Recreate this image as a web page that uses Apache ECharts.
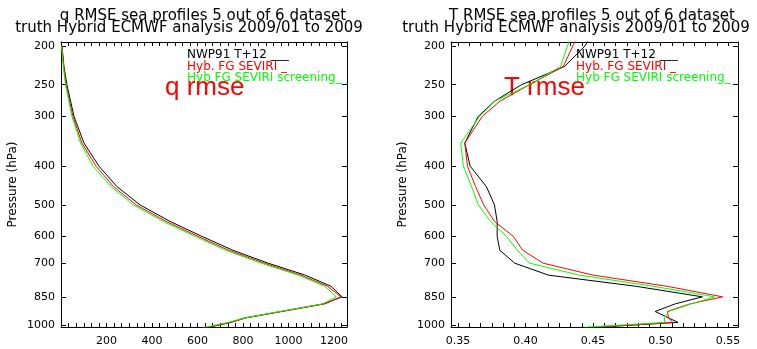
<!DOCTYPE html>
<html>
<head>
<meta charset="utf-8">
<script src="https://cdn.jsdelivr.net/npm/echarts@6/dist/echarts.min.js"></script>
<style>
  html, body { margin: 0; padding: 0; background: #fff; }
  #chart { width: 757px; height: 349px; }
</style>
</head>
<body>
<div id="chart"></div>
<script>
// pressure levels (hPa) and RMSE values
const pressureQ = [200, 225, 250, 300, 350, 400, 450, 500, 550, 600, 650, 700, 750, 800, 850, 885, 960, 985, 1015]
const qNwp    = [4, 13, 26, 57, 101, 167, 246, 347, 479, 620, 756, 910, 1073, 1187, 1235, 1156, 809, 747, 642]
const qHybFg  = [4, 12, 22, 52, 92, 154, 231, 330, 462, 603, 738, 893, 1055, 1172, 1230, 1160, 812, 745, 640]
const qHybScr = [2, 10, 20, 48, 86, 141, 220, 318, 449, 590, 725, 880, 1042, 1160, 1210, 1150, 805, 735, 625]

const pressureT = [175, 200, 225, 250, 275, 300, 350, 400, 450, 500, 550, 600, 650, 700, 750, 800, 850, 885, 925, 960, 985, 1013]
const tNwp    = [0.455, 0.444, 0.429, 0.397, 0.377, 0.365, 0.355, 0.359, 0.371, 0.377, 0.379, 0.379, 0.381, 0.392, 0.417, 0.482, 0.531, 0.511, 0.496, 0.506, 0.513, 0.452]
const tHybFg  = [0.443, 0.435, 0.428, 0.403, 0.381, 0.368, 0.355, 0.357, 0.363, 0.369, 0.377, 0.391, 0.398, 0.413, 0.450, 0.505, 0.546, 0.522, 0.505, 0.506, 0.509, 0.455]
const tHybScr = [0.439, 0.431, 0.426, 0.403, 0.377, 0.366, 0.352, 0.354, 0.360, 0.365, 0.374, 0.386, 0.394, 0.403, 0.440, 0.495, 0.540, 0.523, 0.506, 0.503, 0.503, 0.444]

// tick labels
const pressureTicks = [200, 250, 300, 400, 500, 600, 700, 850, 1000]
const qTicks = [200, 400, 600, 800, 1000, 1200]
const tTicks = [0.35, 0.40, 0.45, 0.50, 0.55]

const seriesNames = ['NWP91 T+12', 'Hyb. FG SEVIRI', 'Hyb FG SEVIRI screening']
const colors = ['#000000', '#ff0000', '#00ff00']

const chart = echarts.init(document.getElementById('chart'))

// pressure axis is logarithmic, plotted as log10(p)
const yMin = Math.log10(195.4)
const yMax = Math.log10(1011.6)
const logTicks = pressureTicks.map(p => Math.log10(p))

const qMin = 0, qMax = 1257
const tMin = 0.3448, tMax = 0.5574

// x ticks: 6 steps between labelled values
function allTicks(start, step, min, max) {
  const out = []
  for (let k = -20; k < 200; k++) {
    const v = +(start + k * step).toFixed(6)
    if (v > min && v < max) out.push(v)
  }
  return out
}
const qTickVals = allTicks(0, 200 / 6, qMin, qMax)
const tTickVals = allTicks(0.35, 0.05 / 6, tMin, tMax)

const font = 'DejaVu Sans'

function xAx(gridIndex, min, max, labels, ticks, pos, fmt) {
  return {
    type: 'value', gridIndex, min, max, position: pos,
    splitLine: { show: false },
    axisLine: { show: true, onZero: false, lineStyle: { color: '#000', width: 1 } },
    axisTick: { show: true, inside: true, length: 4, customValues: ticks, lineStyle: { color: '#000', width: 1 } },
    axisLabel: pos === 'bottom'
      ? { show: true, customValues: labels, formatter: fmt, margin: 9, color: '#000', fontSize: 11, fontFamily: font }
      : { show: false }
  }
}

function yAx(gridIndex, pos) {
  const ax = {
    type: 'value', gridIndex, min: yMin, max: yMax, inverse: true, position: pos,
    splitLine: { show: false },
    axisLine: { show: true, onZero: false, lineStyle: { color: '#000', width: 1 } },
    axisTick: { show: true, inside: true, length: 5, customValues: logTicks, lineStyle: { color: '#000', width: 1 } },
    axisLabel: { show: false }
  }
  if (pos === 'left') {
    ax.axisLabel = {
      show: true, customValues: logTicks, margin: 6,
      formatter: v => String(Math.round(Math.pow(10, v))),
      color: '#000', fontSize: 11, fontFamily: font
    }
    ax.name = 'Pressure (hPa)'
    ax.nameLocation = 'middle'
    ax.nameGap = 42
    ax.nameTextStyle = { color: '#000', fontSize: 12, fontFamily: font }
  }
  return ax
}

function makeSeries(pressures, values, idx, axisIndex) {
  return {
    name: seriesNames[idx], type: 'line', xAxisIndex: axisIndex, yAxisIndex: axisIndex,
    data: pressures.map((p, i) => [values[i], Math.log10(p)]),
    symbol: 'none', clip: true,
    lineStyle: { color: colors[idx], width: 1 }
  }
}

function text(x, y, str, color, size, align, family) {
  return {
    type: 'text', x, y, silent: true,
    style: {
      text: str, fill: color, font: size + 'px "' + (family || font) + '"',
      align: align || 'left', verticalAlign: 'middle'
    }
  }
}

const labels = [
  // titles
  text(203, 16, 'q RMSE sea profiles 5 out of 6 dataset', '#000', 15, 'center'),
  text(189, 28, 'truth Hybrid ECMWF analysis 2009/01 to 2009', '#000', 15, 'center'),
  text(592, 16, 'T RMSE sea profiles 5 out of 6 dataset', '#000', 15, 'center'),
  text(576, 28, 'truth Hybrid ECMWF analysis 2009/01 to 2009', '#000', 15, 'center'),
  // legends
  text(187, 55, seriesNames[0] + ' ___', colors[0], 12),
  text(187, 67, seriesNames[1] + ' _', colors[1], 12),
  text(187, 78, seriesNames[2] + '_', colors[2], 12),
  text(576, 55, seriesNames[0] + ' ___', colors[0], 12),
  text(576, 67, seriesNames[1] + ' _', colors[1], 12),
  text(576, 78, seriesNames[2] + '_', colors[2], 12),
  // panel labels
  text(165, 88, 'q rmse', '#ff0000', 26, 'left', 'Liberation Sans'),
  text(504, 88, 'T rmse', '#ff0000', 26, 'left', 'Liberation Sans')
]

const option = {
  animation: false,
  grid: [
    { left: 61, top: 42, width: 286, height: 285 },
    { left: 451, top: 42, width: 287, height: 285 }
  ],
  xAxis: [
    xAx(0, qMin, qMax, qTicks, qTickVals, 'bottom', v => String(v)),
    xAx(0, qMin, qMax, qTicks, qTickVals, 'top'),
    xAx(1, tMin, tMax, tTicks, tTickVals, 'bottom', v => v.toFixed(2)),
    xAx(1, tMin, tMax, tTicks, tTickVals, 'top')
  ],
  yAxis: [yAx(0, 'left'), yAx(0, 'right'), yAx(1, 'left'), yAx(1, 'right')],
  series: [
    makeSeries(pressureQ, qNwp, 0, 0),
    makeSeries(pressureQ, qHybFg, 1, 0),
    makeSeries(pressureQ, qHybScr, 2, 0),
    makeSeries(pressureT, tNwp, 0, 2),
    makeSeries(pressureT, tHybFg, 1, 2),
    makeSeries(pressureT, tHybScr, 2, 2)
  ],
  graphic: labels
}

chart.setOption(option)

// safety net: if the x axis ticks did not get drawn, add them from the axis scale
const xTickCount = chart.getZr().storage.getDisplayList().filter(el =>
  el.type === 'line' && el.shape && el.shape.x1 === el.shape.x2 &&
  Math.abs(el.shape.y1 - el.shape.y2) > 0 && Math.abs(el.shape.y1 - el.shape.y2) < 10).length
if (xTickCount < 20) {
  const extra = []
  ;[[0, qTickVals], [2, tTickVals]].forEach(([axisIndex, vals], g) => {
    const rect = chart.getModel().getComponent('grid', g).coordinateSystem.getRect()
    vals.forEach(v => {
      const px = Math.round(chart.convertToPixel({ xAxisIndex: axisIndex }, v)) + 0.5
      ;[[rect.y + rect.height, -4], [rect.y, 4]].forEach(([y0, d]) => {
        extra.push({
          type: 'line', silent: true,
          shape: { x1: px, y1: y0, x2: px, y2: y0 + d },
          style: { stroke: '#000', lineWidth: 1 }
        })
      })
    })
  })
  chart.setOption({ graphic: labels.concat(extra) })
}
</script>
</body>
</html>
